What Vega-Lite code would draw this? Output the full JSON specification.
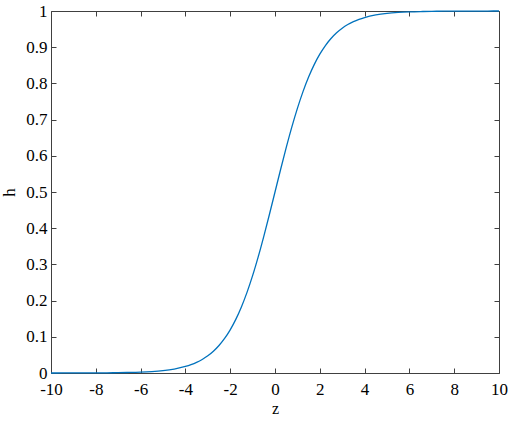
{
  "$schema": "https://vega.github.io/schema/vega-lite/v6.json",
  "width": 448,
  "height": 362,
  "autosize": {"type": "none"},
  "padding": {"left": 51, "top": 11, "right": 16, "bottom": 48},
  "background": "white",
  "config": {
    "view": {"stroke": "#404040", "strokeWidth": 1},
    "font": "Liberation Serif",
    "axis": {
      "domain": false,
      "grid": false,
      "tickColor": "#404040",
      "tickSize": -5,
      "labelFlush": false
    }
  },
  "data": {
    "values": [
      {"z": -10, "h": 0.0000454},
      {"z": -9.5, "h": 0.0000749},
      {"z": -9, "h": 0.0001234},
      {"z": -8.5, "h": 0.0002035},
      {"z": -8, "h": 0.0003354},
      {"z": -7.5, "h": 0.000553},
      {"z": -7, "h": 0.000911},
      {"z": -6.5, "h": 0.001501},
      {"z": -6, "h": 0.002473},
      {"z": -5.5, "h": 0.00407},
      {"z": -5, "h": 0.006693},
      {"z": -4.5, "h": 0.010987},
      {"z": -4, "h": 0.017986},
      {"z": -3.75, "h": 0.022977},
      {"z": -3.5, "h": 0.029312},
      {"z": -3.25, "h": 0.037327},
      {"z": -3, "h": 0.047426},
      {"z": -2.75, "h": 0.060087},
      {"z": -2.5, "h": 0.075858},
      {"z": -2.25, "h": 0.095349},
      {"z": -2, "h": 0.119203},
      {"z": -1.75, "h": 0.148047},
      {"z": -1.5, "h": 0.182426},
      {"z": -1.25, "h": 0.2227},
      {"z": -1, "h": 0.268941},
      {"z": -0.75, "h": 0.320821},
      {"z": -0.5, "h": 0.377541},
      {"z": -0.25, "h": 0.437823},
      {"z": 0, "h": 0.5},
      {"z": 0.25, "h": 0.562177},
      {"z": 0.5, "h": 0.622459},
      {"z": 0.75, "h": 0.679179},
      {"z": 1, "h": 0.731059},
      {"z": 1.25, "h": 0.7773},
      {"z": 1.5, "h": 0.817574},
      {"z": 1.75, "h": 0.851953},
      {"z": 2, "h": 0.880797},
      {"z": 2.25, "h": 0.904651},
      {"z": 2.5, "h": 0.924142},
      {"z": 2.75, "h": 0.939913},
      {"z": 3, "h": 0.952574},
      {"z": 3.25, "h": 0.962673},
      {"z": 3.5, "h": 0.970688},
      {"z": 3.75, "h": 0.977023},
      {"z": 4, "h": 0.982014},
      {"z": 4.5, "h": 0.989013},
      {"z": 5, "h": 0.993307},
      {"z": 5.5, "h": 0.99593},
      {"z": 6, "h": 0.997527},
      {"z": 6.5, "h": 0.998499},
      {"z": 7, "h": 0.999089},
      {"z": 7.5, "h": 0.999447},
      {"z": 8, "h": 0.999665},
      {"z": 8.5, "h": 0.999797},
      {"z": 9, "h": 0.999877},
      {"z": 9.5, "h": 0.999925},
      {"z": 10, "h": 0.999955}
    ]
  },
  "layer": [
    {
      "mark": {"type": "line", "color": "#0072BD", "strokeWidth": 1.3, "interpolate": "monotone"},
      "encoding": {
        "x": {"field": "z", "type": "quantitative", "scale": {"domain": [-10, 10], "nice": false}, "axis": {"values": [-10, -8, -6, -4, -2, 0, 2, 4, 6, 8, 10], "labelExpr": "'' + datum.value", "title": "z", "titlePadding": 3, "labelPadding": 13, "labelFont": "Liberation Serif", "labelFontSize": 17, "labelColor": "#000000", "titleFont": "Liberation Serif", "titleFontSize": 16, "titleFontWeight": "normal", "titleColor": "#000000"}},
        "y": {"field": "h", "type": "quantitative", "scale": {"domain": [0, 1], "nice": false}, "axis": {"values": [0, 0.1, 0.2, 0.3, 0.4, 0.5, 0.6, 0.7, 0.8, 0.9, 1], "labelExpr": "'' + datum.value", "title": "h", "titlePadding": 7, "labelPadding": 9, "labelFont": "Liberation Serif", "labelFontSize": 17, "labelColor": "#000000", "titleFont": "Liberation Serif", "titleFontSize": 17, "titleFontWeight": "normal", "titleColor": "#000000"}}
      }
    },
    {
      "mark": {"type": "line", "opacity": 0},
      "encoding": {
        "x": {"field": "z", "type": "quantitative", "scale": {"domain": [-10, 10], "nice": false}, "axis": {"orient": "top", "values": [-10, -8, -6, -4, -2, 0, 2, 4, 6, 8, 10], "labels": false, "title": null}},
        "y": {"field": "h", "type": "quantitative", "scale": {"domain": [0, 1], "nice": false}, "axis": {"orient": "right", "values": [0, 0.1, 0.2, 0.3, 0.4, 0.5, 0.6, 0.7, 0.8, 0.9, 1], "labels": false, "title": null}}
      }
    }
  ],
  "resolve": {"axis": {"x": "independent", "y": "independent"}}
}
